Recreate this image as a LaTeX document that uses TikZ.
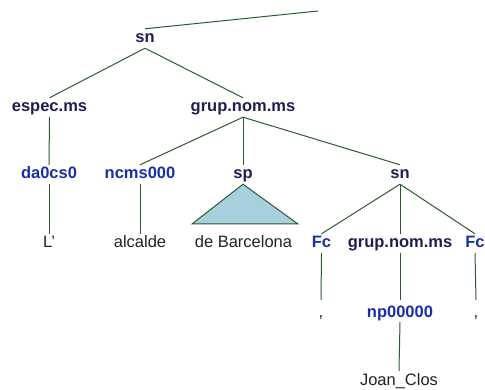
\documentclass[tikz,border=0pt]{standalone}
\usepackage{fontspec}
\setmainfont{Liberation Sans}
\definecolor{edgec}{HTML}{2E5A2E}
\definecolor{navyc}{HTML}{1E1E50}
\definecolor{bluec}{HTML}{1A2FA6}
\definecolor{trifill}{HTML}{A8D0DC}
\definecolor{wordc}{HTML}{222222}
\begin{document}
\begin{tikzpicture}[x=1pt,y=-1pt,
  base/.style={inner xsep=1pt,inner ysep=2pt,text height=12pt,text depth=3pt,anchor=base},
  cat/.style={base,font=\fontsize{16.5}{18}\selectfont\bfseries,text=navyc},
  tag/.style={base,font=\fontsize{16.5}{18}\selectfont\bfseries,text=bluec},
  word/.style={base,font=\fontsize{16.5}{18}\selectfont,text=wordc},
  low/.style={text height=15pt},
  edge/.style={draw=edgec,line width=1pt}]
\useasboundingbox (0,0) rectangle (485,390);
% row 1
\node[cat] (sn0) at (145,43) {sn};
\coordinate (top) at (318,11);
% row 2
\node[cat] (espec) at (49.5,112) {espec.ms};
\node[cat] (gnm) at (243,112) {grup.nom.ms};
% row 3
\node[tag] (da) at (49,179) {da0cs0};
\node[tag] (ncms) at (140,179) {ncms000};
\node[cat] (sp) at (243,179) {sp};
\node[cat] (sn1) at (400,179) {sn};
% row 4
\node[word] (L) at (49,248) {L’};
\node[word] (alc) at (140,248) {alcalde};
\node[word] (bcn) at (243.5,248) {de Barcelona};
\node[tag] (fc1) at (321.5,248) {Fc};
\node[cat] (gnm2) at (400,248) {grup.nom.ms};
\node[tag] (fc2) at (475,248) {Fc};
% row 5
\node[word,low] (c1) at (321,317) {,};
\node[tag,low] (np) at (400,317) {np00000};
\node[word,low] (c2) at (476,317) {,};
% row 6
\node[word] (jc) at (399,385) {Joan\_Clos};
% edges
\draw[edge] (sn0.north) -- (top);
\draw[edge] (sn0.south) -- (espec.north);
\draw[edge] (sn0.south) -- (gnm.north);
\draw[edge] (espec.south) -- (da.north);
\draw[edge] (gnm.south) -- (ncms.north);
\draw[edge] (gnm.south) -- (sp.north);
\draw[edge] (gnm.south) -- (sn1.north);
\draw[edge] (da.south) -- (L.north);
\draw[edge] (ncms.south) -- (alc.north);
\draw[edge,fill=trifill] (sp.south) -- (192,224) -- (298,224) -- cycle;
\draw[edge] (sn1.south) -- (fc1.north);
\draw[edge] (sn1.south) -- (gnm2.north);
\draw[edge] (sn1.south) -- (fc2.north);
\draw[edge] (fc1.south) -- (c1.north);
\draw[edge] (gnm2.south) -- (np.north);
\draw[edge] (fc2.south) -- (c2.north);
\draw[edge] (np.south) -- (jc.north);
\end{tikzpicture}
\end{document}
